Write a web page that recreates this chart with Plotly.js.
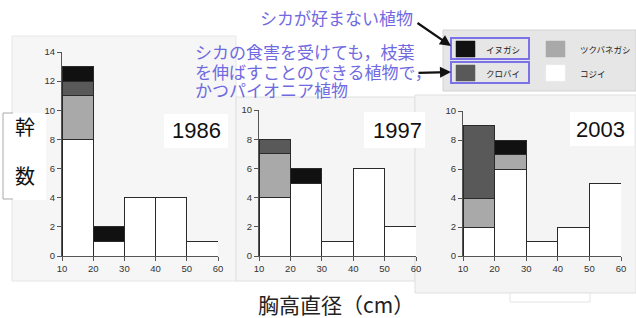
<!DOCTYPE html>
<html><head><meta charset="utf-8">
<script src="https://cdn.plot.ly/plotly-3.0.1.min.js"></script>
<style>body{margin:0;background:#fff}#c{width:636px;height:318px}</style>
</head><body><div id="c"></div>
<script>
// ---- data ----
const bins = [15, 25, 35, 45, 55];            // class centres of 10-cm DBH classes
const binLabels = ["10","20","30","40","50","60"];
const species = ["コジイ", "ツクバネガシ", "クロバイ", "イヌガシ"];   // stacking order, bottom→top
const years = ["1986", "1997", "2003"];
const kojii1986      = [8, 1, 4, 4, 1];
const tsukubane1986  = [3, 0, 0, 0, 0];
const kurobai1986    = [1, 0, 0, 0, 0];
const inugashi1986   = [1, 1, 0, 0, 0];
const kojii1997      = [4, 5, 1, 6, 2];
const tsukubane1997  = [3, 0, 0, 0, 0];
const kurobai1997    = [1, 0, 0, 0, 0];
const inugashi1997   = [0, 1, 0, 0, 0];
const kojii2003      = [2, 6, 1, 2, 5];
const tsukubane2003  = [2, 1, 0, 0, 0];
const kurobai2003    = [5, 0, 0, 0, 0];
const inugashi2003   = [0, 1, 0, 0, 0];
const yMax = [14, 10, 10];
const noteLines = ["シカの食害を受けても，枝葉", "を伸ばすことのできる植物で，", "かつパイオニア植物"];

const W = 636, H = 318;
const px = x => x / W, py = y => 1 - y / H;
const colors = {"コジイ":"#ffffff","ツクバネガシ":"#a9a9a9","クロバイ":"#595959","イヌガシ":"#111111"};
const dataByYear = [
  [kojii1986, tsukubane1986, kurobai1986, inugashi1986],
  [kojii1997, tsukubane1997, kurobai1997, inugashi1997],
  [kojii2003, tsukubane2003, kurobai2003, inugashi2003]
];
const axisSuffix = ["", "2", "3"];
const traces = [];
dataByYear.forEach((set, p) => {
  set.forEach((vals, s) => {
    traces.push({
      type: "bar", x: bins, y: vals, width: bins.map(() => 10),
      name: species[s], showlegend: false,
      xaxis: "x" + axisSuffix[p], yaxis: "y" + axisSuffix[p],
      marker: {color: colors[species[s]], line: {color: "#2a2a2a", width: 1}},
      hoverinfo: "skip"
    });
  });
});

const tickFont = {family: "Liberation Sans, Arial, sans-serif", size: 9.5, color: "#333"};
function xa(d) {
  return {domain: d, range: [10, 60], tickvals: [10,20,30,40,50,60], ticktext: binLabels,
    showline: true, linecolor: "#555", linewidth: 1, ticks: "outside", ticklen: 4, tickcolor: "#555",
    showgrid: false, zeroline: false, tickfont: tickFont, fixedrange: true};
}
function ya(d, m, anchor) {
  return {domain: d, range: [0, m], dtick: 2, anchor: anchor,
    showline: true, linecolor: "#555", linewidth: 1, ticks: "outside", ticklen: 4, tickcolor: "#555",
    showgrid: false, zeroline: false, tickfont: tickFont, fixedrange: true};
}
const yDom = [[py(256), py(52)], [py(256), py(110)], [py(256), py(111)]];
const layout = {
  width: W, height: H, margin: {l:0, r:0, t:0, b:0},
  paper_bgcolor: "#ffffff", plot_bgcolor: "rgba(0,0,0,0)",
  barmode: "stack", bargap: 0, showlegend: false,
  xaxis: Object.assign(xa([px(62), px(218)]), {anchor: "y"}),
  yaxis: ya(yDom[0], yMax[0], "x"),
  xaxis2: Object.assign(xa([px(259), px(416)]), {anchor: "y2"}),
  yaxis2: ya(yDom[1], yMax[1], "x2"),
  xaxis3: Object.assign(xa([px(463), px(621)]), {anchor: "y3"}),
  yaxis3: ya(yDom[2], yMax[2], "x3"),
  shapes: [], annotations: []
};
const S = layout.shapes, A = layout.annotations;
function rect(x0, y0, x1, y1, fill, line, lw, layer) {
  S.push({type: "rect", xref: "paper", yref: "paper", x0: px(x0), x1: px(x1), y0: py(y1), y1: py(y0),
    fillcolor: fill, line: {color: line || "rgba(0,0,0,0)", width: lw || 0}, layer: layer || "below"});
}
// scanned panel backgrounds
rect(12, 36, 236, 281, "#f6f6f6", "#e6e6e6", 1);
rect(236, 97, 415, 281, "#f5f5f5", "#e0e0e0", 1);
rect(415, 95, 636, 293, "#f4f4f4", "#e0e0e0", 1);
rect(510, 293, 590, 302, "#ffffff", "#e4e4e4", 1);
rect(8, 113, 46, 200, "#ffffff");
S.push({type: "path", xref: "paper", yref: "paper", layer: "below",
  path: `M ${px(13)} ${py(113)} L ${px(3)} ${py(113)} L ${px(3)} ${py(199)} L ${px(13)} ${py(199)}`,
  line: {color: "#aaaaaa", width: 1}});
// white patches behind year labels
rect(164, 114, 228, 148, "#ffffff");
rect(364, 112, 425, 148, "#ffffff");
rect(570, 112, 634, 146, "#ffffff");

// legend
rect(443, 30, 636, 91, "#e6e6e6", "#d2d2d2", 1);
const legendItems = [
  {name: "イヌガシ", x: 456, y: 41, box: true},
  {name: "クロバイ", x: 456, y: 65, box: true},
  {name: "ツクバネガシ", x: 546, y: 41},
  {name: "コジイ", x: 546, y: 65}
];
legendItems.forEach(it => {
  rect(it.x, it.y, it.x + 19, it.y + 16, colors[it.name], it.name === "コジイ" ? "#f4f4f4" : colors[it.name], 0.5, "above");
  if (it.box) rect(451, it.y - 3, 529, it.y + 18, "rgba(0,0,0,0)", "#7a72e6", 2, "above");
  A.push({xref: "paper", yref: "paper", x: it.box ? px(522) : px(578), y: py(it.y + 8),
    xanchor: it.box ? "right" : "left", yanchor: "middle", showarrow: false, text: it.name,
    font: {family: "Noto Sans CJK JP", size: 8.5, color: "#222"}});
});

// year labels
const yearPos = [[196, 130], [397, 130], [600, 129]];
years.forEach((yr, i) => A.push({xref: "paper", yref: "paper", x: px(yearPos[i][0]), y: py(yearPos[i][1]),
  xanchor: "center", yanchor: "middle", showarrow: false, text: yr,
  font: {family: "Liberation Sans, Arial, sans-serif", size: 22, color: "#111"}}));

// axis titles
A.push({xref: "paper", yref: "paper", x: px(25), y: py(126), showarrow: false, text: "幹",
  xanchor: "center", yanchor: "middle", font: {family: "Noto Sans CJK JP", size: 20, color: "#111"}});
A.push({xref: "paper", yref: "paper", x: px(25), y: py(175), showarrow: false, text: "数",
  xanchor: "center", yanchor: "middle", font: {family: "Noto Sans CJK JP", size: 20, color: "#111"}});
A.push({xref: "paper", yref: "paper", x: px(336), y: py(304), showarrow: false, text: "胸高直径（cm）",
  xanchor: "center", yanchor: "middle", font: {family: "Noto Sans CJK JP", size: 21, color: "#222"}});

// blue explanatory notes with arrows
const blue = "#6f6ae0";
A.push({xref: "paper", yref: "paper", x: px(415), y: py(18), showarrow: false, text: "シカが好まない植物",
  xanchor: "right", yanchor: "middle", font: {family: "Noto Sans CJK JP", size: 17, color: blue}});
const lineY = [52, 71, 90];
noteLines.forEach((t, i) => A.push({xref: "paper", yref: "paper", x: px(193), y: py(lineY[i]),
  showarrow: false, text: t, xanchor: "left", yanchor: "middle",
  font: {family: "Noto Sans CJK JP", size: 17, color: blue}}));
A.push({xref: "paper", yref: "paper", axref: "paper", ayref: "paper",
  x: px(451), y: py(46), ax: px(416), ay: py(22), text: "", showarrow: true,
  arrowhead: 2, arrowsize: 1, arrowwidth: 2.2, arrowcolor: "#111"});
A.push({xref: "paper", yref: "paper", axref: "paper", ayref: "paper",
  x: px(451), y: py(72), ax: px(417), ay: py(73), text: "", showarrow: true,
  arrowhead: 2, arrowsize: 1, arrowwidth: 2.2, arrowcolor: "#111"});

Plotly.newPlot("c", traces, layout, {displayModeBar: false, staticPlot: true});
</script></body></html>
